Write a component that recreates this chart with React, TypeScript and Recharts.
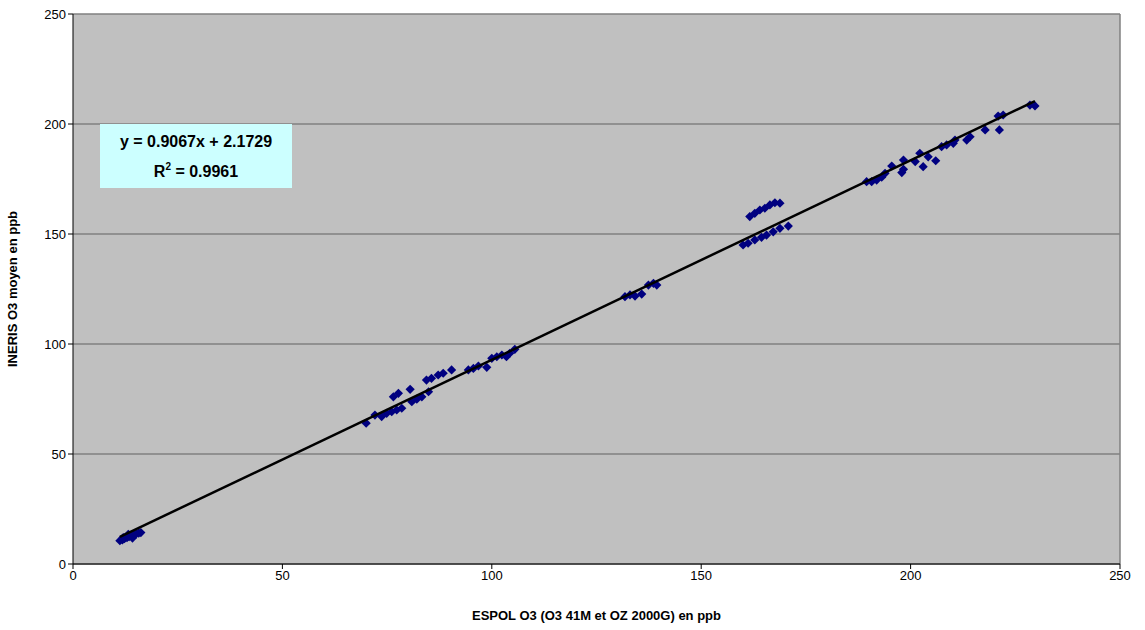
import React from 'react';
import { ScatterChart, Scatter, XAxis, YAxis, CartesianGrid, ReferenceLine } from 'recharts';

// Mesures ESPOL (x) vs INERIS (y), ppb
const espol = [
  11.2, 11.8, 12.3, 12.9, 13.4, 13.9, 14.5, 15.1, 15.7, 16.2, 12.0, 13.2, 14.2,
  70.0, 72.1, 73.7, 74.9, 76.1, 77.3, 78.5, 76.5, 77.7, 80.5, 80.9, 82.1, 83.3, 84.9, 84.4, 85.6, 87.2, 88.4, 90.4,
  94.4, 95.6, 96.8, 98.8, 100.0, 101.2, 102.4, 103.5, 104.3, 105.5,
  131.8, 133.0, 134.2, 135.8, 137.4, 138.6, 139.4,
  161.6, 162.8, 164.0, 165.2, 166.4, 167.6, 168.8,
  160.0, 161.2, 162.8, 164.4, 165.6, 167.2, 168.8, 170.8,
  189.5, 190.7, 191.9, 193.1, 193.9, 195.5, 197.9, 198.3, 198.3, 201.1, 202.2, 203.0, 204.2, 206.0,
  207.4, 208.6, 210.2, 210.6, 213.4, 214.2, 217.8, 221.2, 220.9, 222.1, 228.5, 229.7,
];
const ineris = [
  10.6, 11.0, 11.5, 12.0, 12.4, 12.9, 13.3, 13.7, 14.0, 14.3, 12.0, 13.5, 11.8,
  64.0, 67.7, 67.0, 68.5, 69.2, 70.0, 70.8, 76.0, 77.6, 79.4, 73.8, 74.9, 76.0, 78.3, 83.6, 84.4, 85.9, 86.7, 88.2,
  88.2, 88.9, 90.0, 89.4, 93.5, 94.2, 95.0, 94.2, 95.8, 97.6,
  121.5, 122.3, 121.8, 122.7, 126.8, 127.6, 126.8,
  157.9, 159.4, 160.9, 161.7, 163.2, 164.2, 164.0,
  145.0, 145.8, 147.3, 148.5, 149.5, 151.0, 152.6, 153.6,
  173.8, 173.8, 174.5, 175.8, 177.6, 180.9, 177.9, 179.4, 183.6, 182.9, 186.7, 180.6, 185.1, 183.3,
  189.7, 190.5, 191.2, 192.7, 192.7, 194.2, 197.3, 197.3, 203.6, 204.1, 208.6, 208.2,
];
const axisTicks = [0, 50, 100, 150, 200, 250];
const slope = 0.9067;
const intercept = 2.1729;
const r2 = '0.9961';

const points = espol.map((x, i) => ({ x, y: ineris[i] }));
const xMin = Math.min(...espol);
const xMax = Math.max(...espol);
const trend = [xMin, xMax].map(x => ({ x, y: slope * x + intercept }));

const Diamond = (props: any) => {
  const { cx, cy } = props;
  const r = 4.6;
  return <polygon points={`${cx},${cy - r} ${cx + r},${cy} ${cx},${cy + r} ${cx - r},${cy}`} fill="#000080" />;
};

const font = 'Arial, "Liberation Sans", sans-serif';

export default function App() {
  return (
    <div style={{ position: 'absolute', left: 0, top: 0, width: 1145, height: 630, background: '#fff', fontFamily: font }}>
      <ScatterChart width={1145} height={630} margin={{ top: 14, right: 25, left: 0, bottom: 0 }}>
        <CartesianGrid horizontal vertical={false} stroke="#808080" strokeWidth={1.5} fill="#C0C0C0" fillOpacity={1} />
        <XAxis
          type="number" dataKey="x" domain={[0, 250]} ticks={axisTicks} height={66}
          axisLine={{ stroke: '#000' }} tickLine={{ stroke: '#000' }} tickSize={5}
          tick={{ fill: '#000', fontSize: 13, fontFamily: font }}
          label={{ value: 'ESPOL O3 (O3 41M et OZ 2000G) en ppb', position: 'insideBottom', offset: 10, fill: '#000', fontSize: 13, fontWeight: 'bold', fontFamily: font }}
        />
        <YAxis
          type="number" dataKey="y" domain={[0, 250]} ticks={axisTicks} width={73}
          axisLine={{ stroke: '#000' }} tickLine={{ stroke: '#000' }} tickSize={5}
          tick={{ fill: '#000', fontSize: 13, fontFamily: font }}
          label={{ value: 'INERIS O3 moyen en ppb', angle: -90, position: 'insideLeft', offset: 12, style: { textAnchor: 'middle' }, fill: '#000', fontSize: 13, fontWeight: 'bold', fontFamily: font }}
        />
        <ReferenceLine x={250} stroke="#808080" strokeWidth={1.5} />
        <Scatter data={points} shape={<Diamond />} isAnimationActive={false} />
        <Scatter data={trend} line={{ stroke: '#000', strokeWidth: 2.5 }} shape={() => <g />} isAnimationActive={false} />
      </ScatterChart>
      <div style={{
        position: 'absolute', left: 100, top: 124, width: 192, height: 64, background: '#CCFFFF',
        fontFamily: font, fontWeight: 'bold', fontSize: 16, color: '#000', textAlign: 'center', lineHeight: '30px', paddingTop: 3, boxSizing: 'border-box',
      }}>
        <div>y = {slope}x + {intercept}</div>
        <div>R<sup style={{ fontSize: 10, verticalAlign: 'top', lineHeight: '20px' }}>2</sup> = {r2}</div>
      </div>
    </div>
  );
}
